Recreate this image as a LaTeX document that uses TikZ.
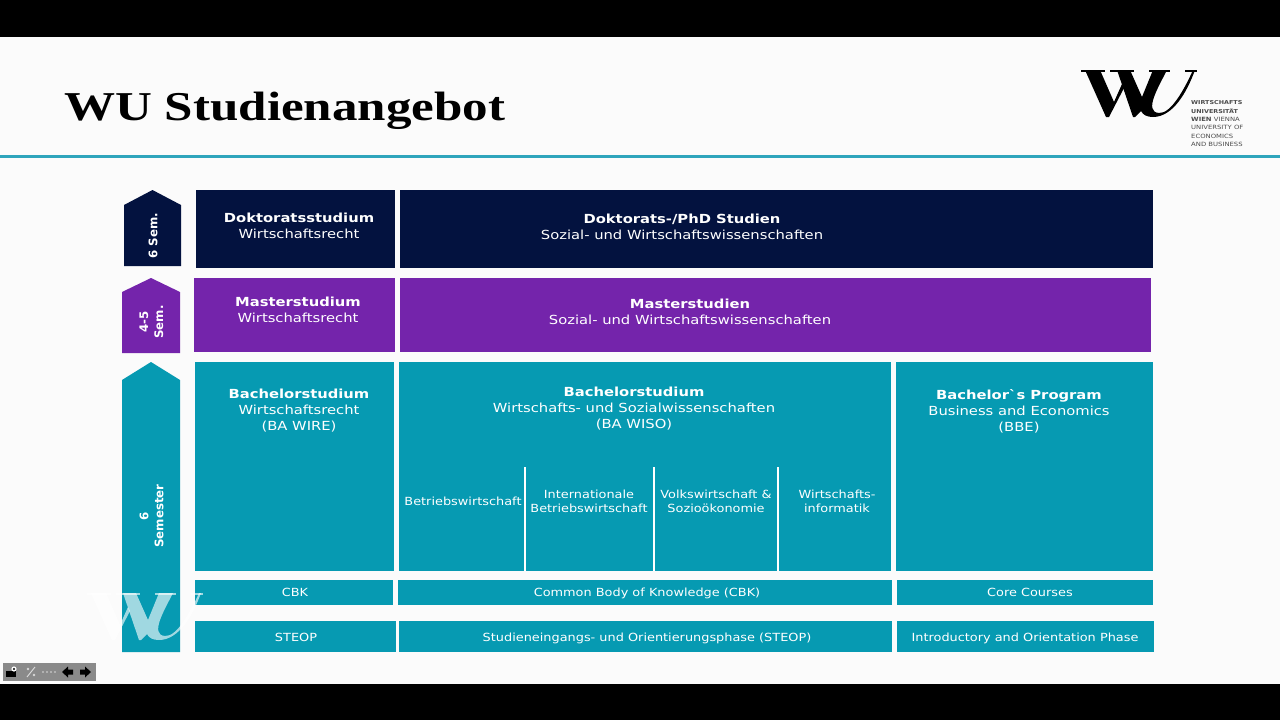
\documentclass[tikz,border=0pt]{standalone}
\usepackage{fontspec}
\setmainfont{DejaVu Sans}
\newfontfamily\titlefont[FakeStretch=1.245]{Liberation Serif}
\newfontfamily\boxfont[FakeStretch=1.18]{DejaVu Sans}
\newfontfamily\trackfont[FakeStretch=1.15]{DejaVu Sans}
\newfontfamily\logofont[FakeStretch=1.18]{DejaVu Sans}
\definecolor{wunavy}{HTML}{03123F}
\definecolor{wupurple}{HTML}{7424AB}
\definecolor{wuteal}{HTML}{069AB2}
\definecolor{wuline}{HTML}{2FA5BC}
\definecolor{wupaper}{HTML}{FBFBFB}
\definecolor{wugrey}{HTML}{8A8A8A}
\tikzset{
  navybox/.style={fill=wunavy,text=white,inner sep=0pt,align=center},
  purplebox/.style={navybox,fill=wupurple},
  tealbox/.style={navybox,fill=wuteal},
  rowbox/.style={tealbox},
  boxtext/.style={text=white,inner sep=0pt,align=center,font=\boxfont\fontsize{12.5}{16}\selectfont},
  tracktext/.style={text=white,inner sep=0pt,align=center,font=\trackfont\fontsize{11.2}{14}\selectfont},
  semtext/.style={text=white,inner sep=0pt,align=center,rotate=90,font=\fontsize{11.8}{15}\selectfont\bfseries},
  logotext/.style={text=black!70,inner sep=0pt,anchor=west,font=\logofont\fontsize{5.8}{7}\selectfont},
  logobold/.style={logotext,font=\logofont\fontsize{5.4}{7}\selectfont\bfseries},
  wulogo/.pic={
    \fill[pic actions] (0,0) -- (24,0) -- (24,1.5) -- (0,1.5) -- cycle;
    \fill[pic actions] (29,0) -- (53,0) -- (53,1.5) -- (29,1.5) -- cycle;
    \fill[pic actions] (68,0) -- (89,0) -- (89,1.5) -- (68,1.5) -- cycle;
    \fill[pic actions] (104,0) -- (116,0) -- (116,1.5) -- (104,1.5) -- cycle;
    \fill[pic actions] (4,0) -- (19,0) -- (33,32) -- (41,14) -- (43,18) -- (28,47) -- (25,47) -- cycle;
    \fill[pic actions] (36,0) -- (49,0) -- (61,27) -- (72,0) -- (86,0)
      .. controls (78,16) and (62,42) .. (78,43)
      .. controls (90,44) and (104,18) .. (112,0) -- (114,0)
      .. controls (106,22) and (92,47) .. (72,47)
      .. controls (66,47) and (62,45) .. (60,41) -- (54,47) -- (52,47) -- cycle;
  }
}
\begin{document}
\begin{tikzpicture}[x=1pt,y=-1pt]
  \useasboundingbox (0,0) rectangle (1280,720);
  \fill[wupaper] (0,0) rectangle (1280,720);
  \fill[black] (0,0) rectangle (1280,37);
  \fill[black] (0,684) rectangle (1280,720);
  \fill[wuline] (0,154.5) rectangle (1280,157.5);

  % header
  \path (64,120) node[anchor=base west,inner sep=0pt,text=black,font=\titlefont\fontsize{41}{41}\selectfont\bfseries] (title) {WU Studienangebot};
  \pic[fill=black] at (1081,70) {wulogo};
  \path (1191,103) node[logobold] (logoa) {WIRTSCHAFTS};
  \path (1191,111) node[logobold] (logob) {UNIVERSITÄT};
  \path (1191,119) node[logotext] (logoc) {\textbf{WIEN} VIENNA};
  \path (1191,127.5) node[logotext] (logod) {UNIVERSITY OF};
  \path (1191,136) node[logotext] (logoe) {ECONOMICS};
  \path (1191,144) node[logotext] (logof) {AND BUSINESS};

  % semester arrows
  \fill[wunavy] (124,205) -- (152.5,190) -- (181,205) -- (181,266) -- (124,266) -- cycle;
  \fill[wupurple] (122,292) -- (151,278) -- (180,292) -- (180,353) -- (122,353) -- cycle;
  \fill[wuteal] (122,380) -- (151,362) -- (180,380) -- (180,652) -- (122,652) -- cycle;
  \path (153,236) node[semtext] (semdok) {6 Sem.};
  \path (151.5,322) node[semtext] (semmas) {4-5\\Sem.};
  \path (151.5,516) node[semtext] (sembac) {6\\Semester};

  % doctoral
  \path (295.5,229) node[navybox,minimum width=199pt,minimum height=78pt] (dokwire) {};
  \path (776.5,229) node[navybox,minimum width=753pt,minimum height=78pt] (dokwiso) {};
  \path (299,226) node[boxtext] (dokwiretext) {\textbf{Doktoratsstudium}\\Wirtschaftsrecht};
  \path (682,227) node[boxtext] (dokwisotext) {\textbf{Doktorats-/PhD Studien}\\Sozial- und Wirtschaftswissenschaften};

  % master
  \path (294.5,315) node[purplebox,minimum width=201pt,minimum height=74pt] (maswire) {};
  \path (775.5,315) node[purplebox,minimum width=751pt,minimum height=74pt] (maswiso) {};
  \path (298,310) node[boxtext] (maswiretext) {\textbf{Masterstudium}\\Wirtschaftsrecht};
  \path (690,312) node[boxtext] (maswisotext) {\textbf{Masterstudien}\\Sozial- und Wirtschaftswissenschaften};

  % bachelor
  \path (294.5,466.5) node[tealbox,minimum width=199pt,minimum height=209pt] (bacwire) {};
  \path (645,466.5) node[tealbox,minimum width=492pt,minimum height=209pt] (bacwiso) {};
  \path (1024.5,466.5) node[tealbox,minimum width=257pt,minimum height=209pt] (bacbbe) {};
  \path (299,411) node[boxtext] (bacwiretext) {\textbf{Bachelorstudium}\\Wirtschaftsrecht\\(BA WIRE)};
  \path (634,409) node[boxtext] (bacwisotext) {\textbf{Bachelorstudium}\\Wirtschafts- und Sozialwissenschaften\\(BA WISO)};
  \path (1019,411) node[boxtext] (bacbbetext) {\textbf{Bachelor`s Program}\\Business and Economics\\(BBE)};

  % tracks
  \draw[white,line width=2pt] (525,467) -- (525,571);
  \draw[white,line width=2pt] (653.5,467) -- (653.5,571);
  \draw[white,line width=2pt] (778,467) -- (778,571);
  \path (463,501) node[tracktext] (trackbw) {Betriebswirtschaft};
  \path (589,501) node[tracktext] (trackib) {Internationale\\Betriebswirtschaft};
  \path (716,501) node[tracktext] (trackvw) {Volkswirtschaft \&\\Sozioökonomie};
  \path (837,501) node[tracktext] (trackwi) {Wirtschafts-\\informatik};

  % common body
  \path (294,592.5) node[rowbox,minimum width=198pt,minimum height=25pt] (cbkwire) {};
  \path (645,592.5) node[rowbox,minimum width=494pt,minimum height=25pt] (cbkwiso) {};
  \path (1025,592.5) node[rowbox,minimum width=256pt,minimum height=25pt] (cbkbbe) {};
  \path (295,592) node[tracktext] (cbkwiretext) {CBK};
  \path (647,593) node[tracktext] (cbkwisotext) {Common Body of Knowledge (CBK)};
  \path (1030,592) node[tracktext] (cbkbbetext) {Core Courses};

  % steop
  \path (295.5,636.5) node[rowbox,minimum width=201pt,minimum height=31pt] (stewire) {};
  \path (645.5,636.5) node[rowbox,minimum width=493pt,minimum height=31pt] (stewiso) {};
  \path (1025.5,636.5) node[rowbox,minimum width=257pt,minimum height=31pt] (stebbe) {};
  \path (296,637) node[tracktext] (stewiretext) {STEOP};
  \path (647,638) node[tracktext] (stewisotext) {Studieneingangs- und Orientierungsphase (STEOP)};
  \path (1025,638) node[tracktext] (stebbetext) {Introductory and Orientation Phase};

  % watermark and player bar
  \begin{scope}[opacity=.62]
    \pic[fill=white] at (87,593) {wulogo};
  \end{scope}
  \fill[wugrey] (3,663) rectangle (96,680.5);
  \fill[black] (6,671) rectangle (16,677);
  \fill[white] (14,669) circle (2.6);
  \fill[black] (14,669) circle (1.2);
  \draw[white!85!black,line width=1pt] (27,677) -- (35,667);
  \fill[white!85!black] (28,669) circle (1.3);
  \fill[white!85!black] (34,675) circle (1.3);
  \foreach \dotx in {43,47,51,55} {
    \fill[white!85!black] (\dotx,672) circle (.9);
  }
  \fill[black] (62,672) -- (68,666.5) -- (68,669.5) -- (73,669.5) -- (73,674.5) -- (68,674.5) -- (68,677.5) -- cycle;
  \fill[black] (91,672) -- (85,666.5) -- (85,669.5) -- (80,669.5) -- (80,674.5) -- (85,674.5) -- (85,677.5) -- cycle;
\end{tikzpicture}
\end{document}
